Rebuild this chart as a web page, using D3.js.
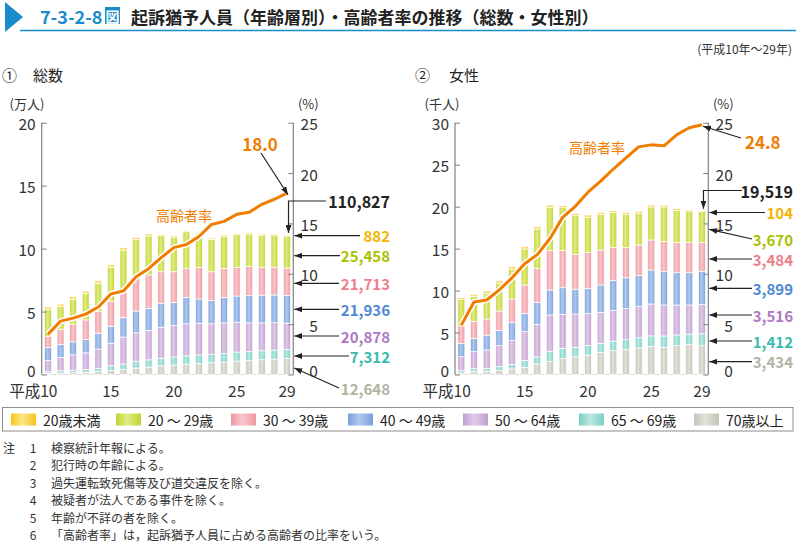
<!DOCTYPE html>
<html><head><meta charset="utf-8">
<script src="https://cdn.jsdelivr.net/npm/d3@7"></script>
<style>
body{margin:0;background:#fff;}
svg{display:block;font-family:"Noto Sans CJK JP","Noto Sans",sans-serif;}
</style></head><body>
<svg id="c" width="796" height="543"></svg>
<script>
// ---------------- DATA ----------------
const years = [10,11,12,13,14,15,16,17,18,19,20,21,22,23,24,25,26,27,28,29];
const xTickYears = [10,15,20,25,29];
const ageGroups = ["20歳未満","20 ～ 29歳","30 ～ 39歳","40 ～ 49歳","50 ～ 64歳","65 ～ 69歳","70歳以上"];
const leftTicks = [0,5,10,15,20];
const rightTicksF = [0,5,10,15,20,25,30];
const pctTicks = [0,5,10,15,20,25];

// ① 総数 (persons)
const total_u20  = [1650,1640,1830,1830,1840,1820,1820,1710,1610,1100,1100,1100,1000,1000,1000,1000,1000,1000,900,882];
const total_20s  = [21910,18250,19860,21040,22660,27020,33100,29090,30870,28700,27500,29200,26900,25800,25600,26100,25800,25600,25750,25458];
const total_30s  = [8640,12100,14060,15550,17150,19830,20690,27680,26640,25000,24500,22900,25000,22900,22900,22600,23200,22000,21800,21713];
const total_40s  = [10390,10360,10390,10570,12560,13560,15340,17310,17600,19000,18200,21000,19200,18400,20300,20800,21600,22000,22000,21936];
const total_50s  = [8950,10560,12120,13210,15210,17910,21400,22540,23230,24600,25000,25500,25300,24200,24200,23700,22850,22150,21700,20878];
const total_65s  = [1310,1720,1880,2220,2690,3760,4450,5470,5860,6200,6400,6600,6700,6800,7000,7150,7150,7150,7250,7312];
const total_70p  = [850,1270,1560,1780,2300,3200,3900,5100,5800,6800,7500,8200,8800,9300,9800,10700,11000,11700,12200,12648];
const total_rate = [4.0,5.3,5.6,6.0,6.7,8.0,8.3,9.7,10.5,11.6,12.6,12.9,13.7,14.9,15.2,15.9,16.1,16.9,17.4,18.0];

// ② 女性 (persons)
const female_u20 = [230,240,280,280,280,280,270,270,240,280,260,240,240,240,240,230,230,240,200,104];
const female_20s = [3130,3010,3060,3300,3580,4290,4690,5160,5120,4600,4190,4250,4130,3970,3730,3930,4130,3850,3690,3670];
const female_30s = [2080,1990,1920,2300,2810,3370,4050,4690,4420,4150,4280,4170,3950,3590,3650,3580,3580,3580,3580,3484];
const female_40s = [1590,1590,1770,1830,2150,2190,2620,2980,3170,2960,2980,3260,3570,3640,3700,4050,3970,3850,3850,3899];
const female_50s = [1670,2030,2190,2500,2820,3430,3880,4360,4050,3960,3850,3690,3650,3730,3700,3800,3690,3570,3470,3516];
const female_65s = [270,350,330,470,550,820,850,1200,1190,1150,1120,1070,1130,1200,1230,1250,1340,1260,1260,1412];
const female_70p = [180,340,400,460,660,850,1250,1530,1930,2100,2320,2640,2850,2950,3150,3350,3250,3450,3550,3434];
const female_rate = [4.9,7.2,7.4,8.4,9.6,11.0,11.9,13.5,15.6,16.7,18.1,19.2,20.4,21.5,22.6,22.8,22.7,23.8,24.5,24.8];

// ---------------- STYLE ----------------
const keys = ["u20","s20","s30","s40","s50","s65","s70"];
const baseCol  = ["#f6c51a","#c2d42c","#ee98a0","#79a0da","#c29ed0","#7ccfc4","#c4c4b8"];
const lightCol = ["#fde68a","#e0eb86","#f9c8cc","#b0c9ee","#e0cbe8","#b9e9e2","#e1e1d8"];
const labelCol = ["#f2b400","#a9c200","#ee7d8b","#4f89d3","#ae78c4","#38bbae","#b3b3a3"];
const orange = "#f07c00";

const svg = d3.select("#c");
const defs = svg.append("defs");
keys.forEach((k,i)=>{
  const g = defs.append("linearGradient").attr("id","g_"+k).attr("x1","0").attr("x2","1").attr("y1","0").attr("y2","0");
  g.append("stop").attr("offset","0%").attr("stop-color",baseCol[i]);
  g.append("stop").attr("offset","45%").attr("stop-color",lightCol[i]);
  g.append("stop").attr("offset","100%").attr("stop-color",baseCol[i]);
});
defs.append("marker").attr("id","arr").attr("viewBox","0 0 8 6").attr("refX",8).attr("refY",3)
  .attr("markerWidth",8).attr("markerHeight",6).attr("markerUnits","userSpaceOnUse").attr("orient","auto")
  .append("path").attr("d","M0,0L8,3L0,6Z").attr("fill","#222");

// ---------------- TITLE ----------------
const blue = "#1b8ccb";
svg.append("path").attr("d","M5,2L23,17L5,32Z").attr("fill",blue);
svg.append("line").attr("x1",20).attr("x2",796).attr("y1",30.5).attr("y2",30.5).attr("stroke",blue).attr("stroke-width",1.5);
svg.append("text").attr("x",40).attr("y",16).attr("dominant-baseline","central")
  .attr("font-size",18).attr("font-weight","bold").attr("fill",blue).text("7-3-2-8");
svg.append("rect").attr("x",105).attr("y",7).attr("width",15).attr("height",17).attr("fill",blue);
svg.append("text").attr("x",112.5).attr("y",16).attr("text-anchor","middle").attr("dominant-baseline","central")
  .attr("font-size",14).attr("font-weight","bold").attr("fill","#fff").text("図");
svg.append("text").attr("x",131).attr("y",16).attr("dominant-baseline","central")
  .attr("font-size",17).attr("font-weight","bold").attr("fill","#222").text("起訴猶予人員（年齢層別）・高齢者率の推移（総数・女性別）");
svg.append("text").attr("x",792).attr("y",48).attr("text-anchor","end").attr("dominant-baseline","central")
  .attr("font-size",12).attr("fill","#333").text("(平成10年～29年)");
svg.append("text").attr("x",2).attr("y",74).attr("dominant-baseline","central").attr("font-size",15).attr("fill","#222").text("①");
svg.append("text").attr("x",33).attr("y",74).attr("dominant-baseline","central").attr("font-size",15).attr("fill","#222").text("総数");
svg.append("text").attr("x",415).attr("y",74).attr("dominant-baseline","central").attr("font-size",15).attr("fill","#222").text("②");
svg.append("text").attr("x",449).attr("y",74).attr("dominant-baseline","central").attr("font-size",15).attr("fill","#222").text("女性");

// ---------------- PANEL ----------------
function panel(cfg){
  const rows = years.map((y,i)=>({year:y, u20:cfg.s[0][i]/cfg.div, s20:cfg.s[1][i]/cfg.div, s30:cfg.s[2][i]/cfg.div,
    s40:cfg.s[3][i]/cfg.div, s50:cfg.s[4][i]/cfg.div, s65:cfg.s[5][i]/cfg.div, s70:cfg.s[6][i]/cfg.div}));
  const stackKeys = keys.slice().reverse();
  const stacked = d3.stack().keys(stackKeys)(rows);
  const x = d3.scaleBand().domain(years).range([cfg.x0,cfg.x1]).paddingInner(0.45).paddingOuter(0.225);
  const y = d3.scaleLinear().domain([0,cfg.ymax]).range([374.5,122.7]);
  const yp = d3.scaleLinear().domain([0,25]).range([374.5,122.7]);
  const g = svg.append("g");
  const cx = d=>x(d)+x.bandwidth()/2;

  // baseline
  g.append("line").attr("x1",cfg.x0).attr("x2",cfg.x1).attr("y1",374.5).attr("y2",374.5)
    .attr("stroke","#c8c8c8").attr("stroke-width",1).attr("stroke-dasharray","1.5,1");

  // bars
  stacked.forEach(layer=>{
    g.append("g").selectAll("rect").data(layer).join("rect")
      .attr("x",d=>x(d.data.year)).attr("width",x.bandwidth())
      .attr("y",d=>y(d[1])).attr("height",d=>Math.max(0,y(d[0])-y(d[1])))
      .attr("fill","url(#g_"+layer.key+")").attr("stroke","#fff").attr("stroke-width",0.7);
  });

  // axes
  const axL = g.append("g").attr("transform",`translate(${cfg.x0},0)`)
    .call(d3.axisRight(y).tickValues(cfg.ticks).tickSize(5).tickFormat(""));
  axL.select(".domain").attr("d",`M0,122.7V374.5`).attr("stroke","#808080").attr("stroke-width",1.2);
  axL.selectAll(".tick line").attr("stroke","#808080");
  g.selectAll(".ltl").data(cfg.ticks).join("text").attr("x",cfg.x0-6).attr("y",d=>y(d)-(d===0?5:-0.5))
    .attr("text-anchor","end").attr("dominant-baseline","central").attr("font-size",15.5).attr("fill","#333").text(d=>d);

  const axR = g.append("g").attr("transform",`translate(${cfg.x1},0)`)
    .call(d3.axisLeft(yp).tickValues(pctTicks).tickSize(5).tickFormat(""));
  axR.select(".domain").attr("d",`M0,122.7V374.5`).attr("stroke","#808080").attr("stroke-width",1.2);
  axR.selectAll(".tick line").attr("stroke","#808080");
  g.selectAll(".rtl").data(pctTicks).join("text").attr("x",cfg.x1+24.5).attr("y",d=>yp(d)-(d===0?4.5:-0.5))
    .attr("text-anchor","end").attr("dominant-baseline","central").attr("font-size",15.5).attr("fill","#333").text(d=>d);

  // x tick labels
  g.selectAll(".xtl").data(xTickYears).join("text")
    .attr("x",d=>d===years[0]? cx(d)+9.5 : cx(d)).attr("y",390)
    .attr("text-anchor",d=>d===years[0]?"end":"middle").attr("dominant-baseline","central")
    .attr("font-size",15.5).attr("fill","#333").text(d=>d===years[0]?"平成"+d:d);

  // units
  g.append("text").attr("x",cfg.unitX).attr("y",103).attr("text-anchor","middle").attr("dominant-baseline","central")
    .attr("font-size",13).attr("fill","#333").text(cfg.unit);
  g.append("text").attr("x",cfg.x1+15).attr("y",103).attr("text-anchor","middle").attr("dominant-baseline","central")
    .attr("font-size",13).attr("fill","#333").text("(%)");

  // rate line
  const line = d3.line().x((d,i)=>cx(years[i])).y(d=>yp(d));
  g.append("path").attr("d",line(cfg.rate)).attr("fill","none").attr("stroke","#fff").attr("stroke-width",6).attr("stroke-linejoin","round");
  g.append("path").attr("d",line(cfg.rate)).attr("fill","none").attr("stroke",orange).attr("stroke-width",3).attr("stroke-linejoin","round");
  g.append("text").attr("x",cfg.rateLbl[0]).attr("y",cfg.rateLbl[1]).attr("text-anchor","middle").attr("dominant-baseline","central")
    .attr("font-size",14).attr("fill",orange).text("高齢者率");

  // annotations
  const last = years.length-1, lx = cx(years[last]);
  const lastRate = cfg.rate[last];
  const a = cfg.ann;
  g.append("text").attr("x",a.rate.tx).attr("y",a.rate.ty).attr("text-anchor",a.rate.anchor).attr("dominant-baseline","central")
    .attr("font-size",17).attr("font-weight","bold").attr("fill",orange).text(lastRate.toFixed(1));
  g.append("line").attr("x1",a.rate.sx).attr("y1",a.rate.sy).attr("x2",lx+1).attr("y2",yp(lastRate)+1.5)
    .attr("stroke","#222").attr("stroke-width",1.2).attr("marker-end","url(#arr)");

  const tot = d3.sum(cfg.s, s=>s[last]);
  g.append("text").attr("x",cfg.lblX).attr("y",a.totY).attr("text-anchor","end").attr("dominant-baseline","central")
    .attr("font-size",16).attr("font-weight","bold").attr("fill","#222").text(d3.format(",")(tot));
  g.append("path").attr("d",`M${a.totSX},${a.totY}H${lx+1.5}V${y(tot/cfg.div)-2}`).attr("fill","none")
    .attr("stroke","#222").attr("stroke-width",1.2).attr("marker-end","url(#arr)");

  a.seg.forEach((sp,i)=>{
    g.append("text").attr("x",cfg.lblX).attr("y",sp.ty).attr("text-anchor","end").attr("dominant-baseline","central")
      .attr("font-size",15).attr("font-weight","bold").attr("fill",labelCol[i]).text(d3.format(",")(cfg.s[i][last]));
    g.append("line").attr("x1",sp.sx).attr("y1",sp.sy!==undefined?sp.sy:sp.ty).attr("x2",cfg.x1+1).attr("y2",sp.ey!==undefined?sp.ey:sp.ty)
      .attr("stroke","#222").attr("stroke-width",1.2).attr("marker-end","url(#arr)");
  });
}

panel({
  s:[total_u20,total_20s,total_30s,total_40s,total_50s,total_65s,total_70p], div:10000, ymax:20,
  rate:total_rate, x0:41.7, x1:293.3, ticks:leftTicks, unit:"(万人)", unitX:27, rateLbl:[184,215], lblX:390,
  ann:{
    rate:{tx:260,ty:143.5,anchor:"middle",sx:261,sy:153},
    totY:201, totSX:326,
    seg:[{ty:235.7,sx:360},{ty:255.7,sx:340},{ty:283.3,sx:339},{ty:309.3,sx:339},{ty:336,sx:339},{ty:356,sx:349},
         {ty:388.3,sx:339,sy:388,ey:368}]
  }
});
panel({
  s:[female_u20,female_20s,female_30s,female_40s,female_50s,female_65s,female_70p], div:1000, ymax:30,
  rate:female_rate, x0:455, x1:708.3, ticks:rightTicksF, unit:"(千人)", unitX:442, rateLbl:[597,147], lblX:793,
  ann:{
    rate:{tx:745,ty:141,anchor:"start",sx:741,sy:138},
    totY:190.5, totSX:742,
    seg:[{ty:212.5,sx:765},{ty:239.5,sx:752,sy:239,ey:229.3},{ty:259,sx:752},{ty:288.3,sx:752},{ty:315,sx:752},{ty:341,sx:752},{ty:361.7,sx:752}]
  }
});

// ---------------- LEGEND ----------------
svg.append("rect").attr("x",2.5).attr("y",407.5).attr("width",790.5).attr("height",23.5).attr("fill","#fff").attr("stroke","#8c8c8c").attr("stroke-width",1);
const legX = [11,116,231,348,463,579,694];
ageGroups.forEach((t,i)=>{
  svg.append("rect").attr("x",legX[i]).attr("y",413.5).attr("width",25).attr("height",12).attr("fill","url(#g_"+keys[i]+")");
  svg.append("text").attr("x",legX[i]+32).attr("y",419.5).attr("dominant-baseline","central").attr("font-size",14).attr("fill","#222").text(t);
});

// ---------------- NOTES ----------------
const notes = ["検察統計年報による。","犯行時の年齢による。","過失運転致死傷等及び道交違反を除く。","被疑者が法人である事件を除く。","年齢が不詳の者を除く。","「高齢者率」は，起訴猶予人員に占める高齢者の比率をいう。"];
svg.append("text").attr("x",3).attr("y",447).attr("dominant-baseline","central").attr("font-size",12).attr("fill","#333").text("注");
notes.forEach((n,i)=>{
  const yy = 447 + i*17.5;
  svg.append("text").attr("x",33).attr("y",yy).attr("text-anchor","middle").attr("dominant-baseline","central").attr("font-size",12).attr("fill","#333").text(i+1);
  svg.append("text").attr("x",51).attr("y",yy).attr("dominant-baseline","central").attr("font-size",12).attr("fill","#333").text(n);
});
</script>
</body></html>
